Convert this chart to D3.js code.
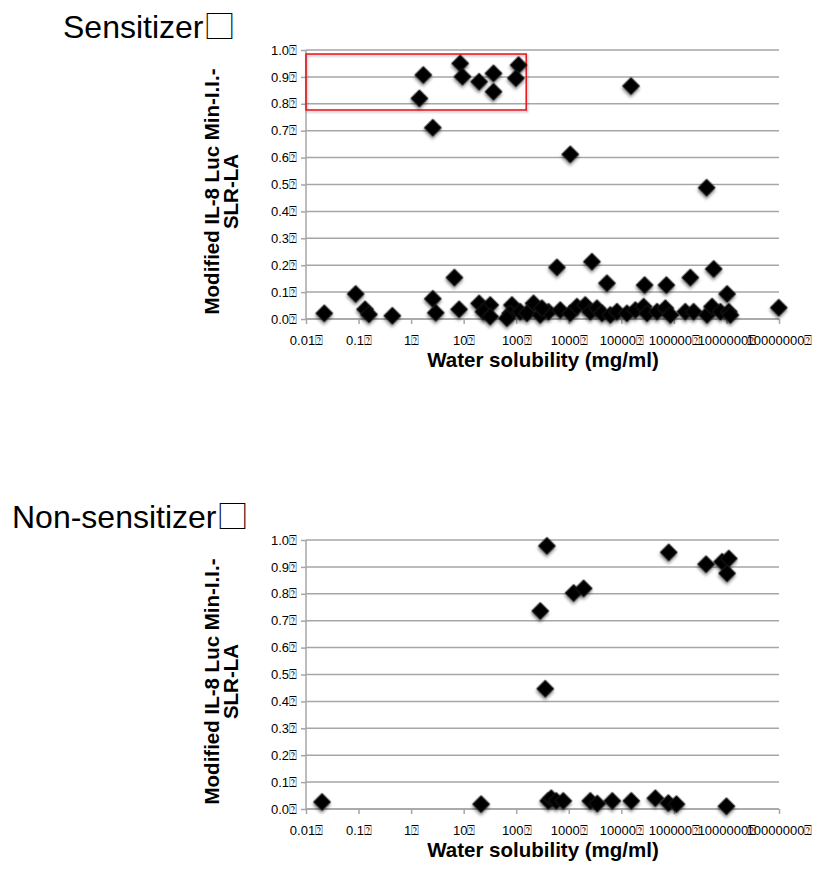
<!DOCTYPE html>
<html><head><meta charset="utf-8">
<script src="https://cdn.jsdelivr.net/npm/d3@7"></script>
<style>
body{margin:0;background:#fff;}
text{font-family:"Liberation Sans",Arial,sans-serif;}
</style></head>
<body><svg id="c" width="827" height="872"></svg>
<script>
const xTickValues = [0.01,0.1,1,10,100,1000,10000,100000,1000000,10000000];
const xTickLabels = ["0.01","0.1","1","10","100","1000","10000","100000","1000000","10000000"];
const yTickValues = [0,0.1,0.2,0.3,0.4,0.5,0.6,0.7,0.8,0.9,1.0];
const yTickLabels = ["0.0","0.1","0.2","0.3","0.4","0.5","0.6","0.7","0.8","0.9","1.0"];
const titles = ["Sensitizer","Non-sensitizer"];
const titleMark = "\u25A1";
const yLabelLines = ["Modified IL-8 Luc Min-I.I.-","SLR-LA"];
const xLabel = "Water solubility (mg/ml)";

// Sensitizer: solubility (mg/ml) and value
const sensX = [1.71,1.44,2.59,8.6,9.5,19.7,37,37,111,98.6,
  15300,1069,420000,
  0.0223,0.0883,0.133,0.158,0.44,2.59,2.95,6.68,8.2,19.7,32,23.8,32,83,77,66.5,119,214,160,286,412,596,
  2760,5330,27800,72000,206000,573000,1030000,9900000,
  309,689,1070,1430,2060,2570,3440,4290,6170,8270,12800,18500,26600,30900,47900,68900,85700,165000,238000,428000,533000,769000,1110000,1190000];
const sensY = [0.907,0.820,0.711,0.950,0.901,0.882,0.913,0.845,0.944,0.895,
  0.866,0.612,0.488,
  0.021,0.093,0.036,0.017,0.012,0.075,0.023,0.154,0.036,0.058,0.052,0.027,0.009,0.052,0.021,0.003,0.027,0.058,0.021,0.015,0.027,0.192,
  0.213,0.133,0.126,0.126,0.154,0.186,0.093,0.042,
  0.040,0.033,0.021,0.046,0.052,0.027,0.040,0.021,0.015,0.027,0.021,0.033,0.046,0.021,0.027,0.040,0.015,0.027,0.027,0.015,0.046,0.027,0.027,0.015];

// Non-sensitizer
const nonX = [384,287,1240,1920,79800,410000,828000,1110000,1030000,357,
  0.0202,21.5,407,464,578,786,2570,3490,6740,15500,44400,78500,112000,1000000];
const nonY = [0.978,0.736,0.803,0.820,0.954,0.910,0.919,0.931,0.876,0.447,
  0.026,0.018,0.030,0.040,0.030,0.030,0.030,0.020,0.030,0.030,0.040,0.022,0.018,0.010];

// red highlight box on sensitizer chart (data coords)
const boxX = [0.01,155];
const boxY = [0.777,0.985];

const svg = d3.select("#c");
const defs = svg.append("defs");
const f = defs.append("filter").attr("id","sh").attr("x","-50%").attr("y","-50%").attr("width","200%").attr("height","200%");
f.append("feDropShadow").attr("dx",1.5).attr("dy",2).attr("stdDeviation",1.6).attr("flood-color","#000").attr("flood-opacity",0.45);
const fr = defs.append("filter").attr("id","shr").attr("x","-10%").attr("y","-10%").attr("width","120%").attr("height","130%");
fr.append("feDropShadow").attr("dx",1).attr("dy",1.5).attr("stdDeviation",1.2).attr("flood-color","#000").attr("flood-opacity",0.3);

function chart(top, title, titleX, xs, ys, box){
  const x = d3.scaleLog().domain([0.01,1e7]).range([306,779]);
  const y = d3.scaleLinear().domain([0,1]).range([top+269,top]);
  const g = svg.append("g");
  // gridlines
  g.selectAll(".grid").data(yTickValues).join("line")
    .attr("x1",306).attr("x2",779).attr("y1",d=>y(d)).attr("y2",d=>y(d))
    .attr("stroke","#a6a6a6").attr("stroke-width",1.5);
  // y axis
  const ya = g.append("g").attr("transform","translate(306,0)")
    .call(d3.axisLeft(y).tickValues(yTickValues).tickSize(5).tickPadding(4)
      .tickFormat((d,i)=>yTickLabels[i]+"\u2370"));
  ya.select(".domain").attr("stroke","#a6a6a6").attr("stroke-width",1.5).attr("d",`M0,${top+269}V${top}`);
  ya.selectAll(".tick line").attr("stroke","#a6a6a6").attr("stroke-width",1.5);
  ya.selectAll("text").attr("font-size",13).attr("fill","#000").attr("font-family","Liberation Sans, Arial, sans-serif");
  // x axis
  const xa = g.append("g").attr("transform",`translate(0,${top+269})`)
    .call(d3.axisBottom(x).tickValues(xTickValues).tickSize(5).tickPadding(12)
      .tickFormat((d,i)=>xTickLabels[i]+"\u2370"));
  xa.select(".domain").attr("stroke","#a6a6a6").attr("stroke-width",1.5).attr("d","M306,0H779");
  xa.selectAll(".tick line").attr("stroke","#a6a6a6").attr("stroke-width",1.5);
  xa.selectAll("text").attr("font-size",13).attr("fill","#000").attr("font-family","Liberation Sans, Arial, sans-serif");
  // red box
  if(box){
    g.append("rect").attr("x",x(boxX[0])).attr("y",y(boxY[1]))
      .attr("width",x(boxX[1])-x(boxX[0])).attr("height",y(boxY[0])-y(boxY[1]))
      .attr("fill","none").attr("stroke","#e8141c").attr("stroke-width",1.5).attr("filter","url(#shr)");
  }
  // points
  const sym = d3.symbol().type(d3.symbolSquare).size(150);
  g.selectAll(".pt").data(xs.map((v,i)=>[v,ys[i]])).join("path")
    .attr("d",sym).attr("transform",d=>`translate(${x(d[0])},${y(d[1])}) rotate(45)`)
    .attr("fill","#000").attr("stroke","#222").attr("stroke-width",0.6).attr("filter","url(#sh)");
  // title
  const t = svg.append("text").attr("x",titleX).attr("y",top-12).attr("font-size",32).attr("fill","#000");
  t.append("tspan").text(title);
  t.append("tspan").attr("font-family","Noto Sans CJK JP").attr("font-weight",300).text(titleMark);
  // y label
  const cy = y(0.5) + 7;
  const yl = svg.append("text").attr("transform",`translate(219,${cy}) rotate(-90)`)
    .attr("text-anchor","middle").attr("font-size",20.5).attr("font-weight","bold");
  yl.append("tspan").attr("x",0).attr("dy",0).text(yLabelLines[0]);
  yl.append("tspan").attr("x",0).attr("dy",19).text(yLabelLines[1]);
  // x label
  svg.append("text").attr("x",543).attr("y",top+269+48).attr("text-anchor","middle")
    .attr("font-size",20.5).attr("font-weight","bold").text(xLabel);
}
chart(50, titles[0], 63, sensX, sensY, true);
chart(540, titles[1], 12, nonX, nonY, false);
</script></body></html>
